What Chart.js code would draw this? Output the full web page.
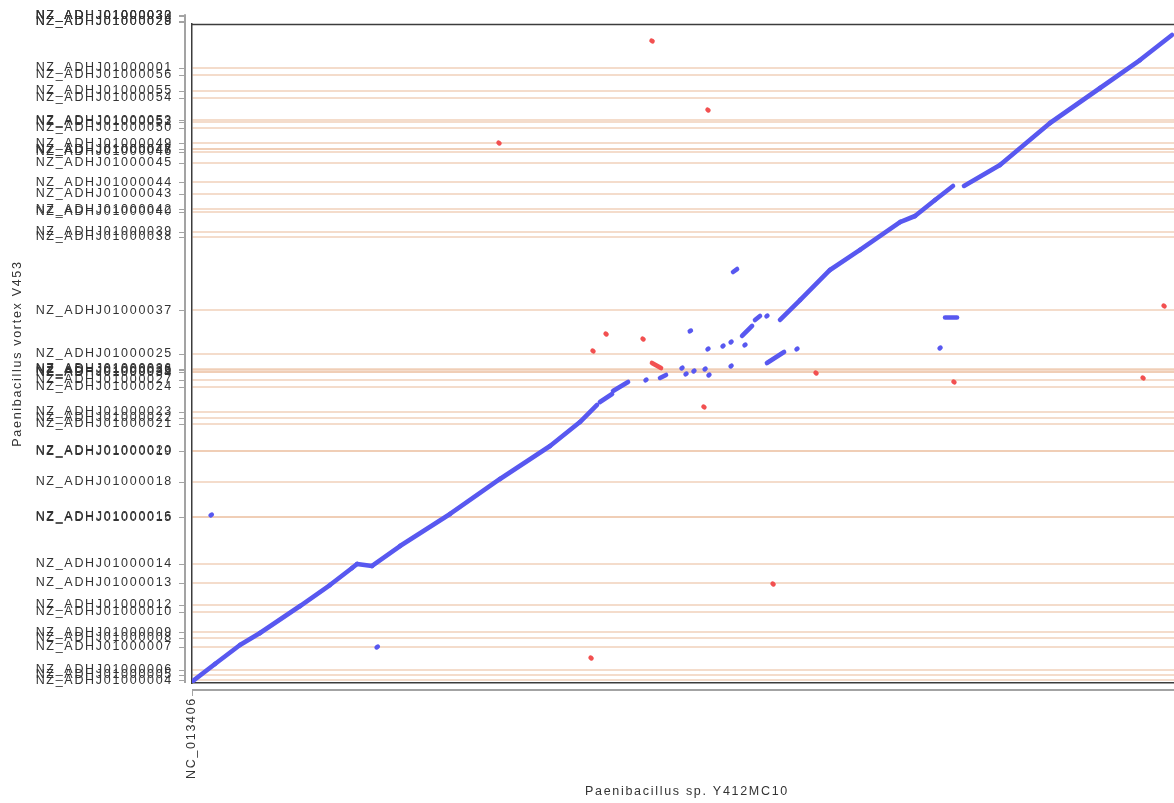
<!DOCTYPE html>
<html>
<head>
<meta charset="utf-8">
<title>Paenibacillus dot plot</title>
<script src="https://cdn.jsdelivr.net/npm/chart.js@4.4.1/dist/chart.umd.min.js"></script>
<style>
  html, body { margin: 0; padding: 0; background: #ffffff; overflow: hidden; }
  #wrap { width: 1184px; height: 803px; }
</style>
</head>
<body>
<div id="wrap"><canvas id="dotplot" width="1184" height="803"></canvas></div>
<script>
// Reference sequence on x, positions in kb
const refName = 'NC_013406';
const refStart = 0;
const refLength = 7120;

// Query draft assembly on y: contig start positions (kb) in plotted order
const qryLength = 6250;
const contigNames = [
  'NZ_ADHJ01000004', 'NZ_ADHJ01000005', 'NZ_ADHJ01000006', 'NZ_ADHJ01000007',
  'NZ_ADHJ01000008', 'NZ_ADHJ01000009', 'NZ_ADHJ01000010', 'NZ_ADHJ01000012',
  'NZ_ADHJ01000013', 'NZ_ADHJ01000014', 'NZ_ADHJ01000015', 'NZ_ADHJ01000016',
  'NZ_ADHJ01000018', 'NZ_ADHJ01000019', 'NZ_ADHJ01000020', 'NZ_ADHJ01000021',
  'NZ_ADHJ01000022', 'NZ_ADHJ01000023', 'NZ_ADHJ01000024', 'NZ_ADHJ01000027',
  'NZ_ADHJ01000034', 'NZ_ADHJ01000035', 'NZ_ADHJ01000036', 'NZ_ADHJ01000026',
  'NZ_ADHJ01000025', 'NZ_ADHJ01000037', 'NZ_ADHJ01000038', 'NZ_ADHJ01000039',
  'NZ_ADHJ01000040', 'NZ_ADHJ01000042', 'NZ_ADHJ01000043', 'NZ_ADHJ01000044',
  'NZ_ADHJ01000045', 'NZ_ADHJ01000046', 'NZ_ADHJ01000047', 'NZ_ADHJ01000048',
  'NZ_ADHJ01000049', 'NZ_ADHJ01000050', 'NZ_ADHJ01000052', 'NZ_ADHJ01000053',
  'NZ_ADHJ01000054', 'NZ_ADHJ01000055', 'NZ_ADHJ01000056', 'NZ_ADHJ01000001',
  'NZ_ADHJ01000028', 'NZ_ADHJ01000029', 'NZ_ADHJ01000030', 'NZ_ADHJ01000032',
  'NZ_ADHJ01000033'
];
const contigStarts = [
  24, 76, 123, 346,
  427, 479, 673, 740,
  953, 1133, 1570, 1579,
  1906, 2196, 2205, 2456,
  2513, 2570, 2807, 2878,
  2945, 2950, 2973, 2978,
  3120, 3533, 4230, 4282,
  4467, 4495, 4642, 4751,
  4932, 5036, 5060, 5064,
  5117, 5264, 5321, 5335,
  5548, 5619, 5771, 5837,
  6269, 6274, 6326, 6330,
  6334
];

// Forward-strand matches: [refFrom, qryFrom, refTo, qryTo] in kb
const forwardHits = [
  [7, 19, 165, 180], [165, 180, 345, 360], [345, 360, 489, 474],
  [489, 474, 777, 730], [777, 730, 992, 929], [992, 929, 1151, 1091],
  [1151, 1091, 1187, 1129], [1187, 1129, 1295, 1110], [1295, 1110, 1496, 1299],
  [1496, 1299, 1856, 1603], [1856, 1603, 2215, 1935], [2215, 1935, 2575, 2248],
  [2575, 2248, 2790, 2475], [2790, 2475, 2913, 2637],
  [2934, 2665, 3021, 2741], [3028, 2769, 3136, 2855],
  [4229, 3443, 4373, 3632], [4373, 3632, 4588, 3917], [4588, 3917, 4804, 4107],
  [4804, 4107, 5092, 4372], [5092, 4372, 5200, 4429], [5200, 4429, 5344, 4581],
  [5344, 4581, 5473, 4714],
  [5552, 4714, 5811, 4913], [5811, 4913, 6171, 5311], [6171, 5311, 6531, 5643],
  [6531, 5643, 6818, 5908], [6818, 5908, 7048, 6146],
  [134, 1590, 142, 1597], [1328, 338, 1336, 345], [3891, 3898, 3920, 3926],
  [3580, 3336, 3588, 3342], [3708, 3165, 3714, 3171], [3816, 3193, 3822, 3199],
  [3874, 3231, 3880, 3237], [3974, 3203, 3980, 3209], [3956, 3291, 4028, 3386],
  [4049, 3443, 4085, 3481], [4132, 3478, 4138, 3484], [4348, 3165, 4354, 3171],
  [5377, 3174, 5383, 3180], [5416, 3466, 5502, 3466], [3521, 2984, 3527, 2990],
  [3550, 2928, 3556, 2934], [3607, 2956, 3613, 2962], [3687, 2975, 3693, 2981],
  [3715, 2918, 3721, 2924], [3874, 3003, 3880, 3009], [3262, 2871, 3268, 2877],
  [3366, 2893, 3409, 2921], [4135, 3035, 4258, 3139]
];

// Reverse-strand matches: [refFrom, qryFrom, refTo, qryTo] in kb
const reverseHits = [
  [3305, 6092, 3312, 6086], [3708, 5437, 3714, 5431], [2205, 5124, 2211, 5118],
  [2975, 3313, 2981, 3307], [3241, 3265, 3247, 3259], [2881, 3152, 2887, 3146],
  [3308, 3035, 3373, 2987], [4485, 2943, 4491, 2937], [5477, 2858, 5483, 2852],
  [6837, 2896, 6843, 2890], [6988, 3579, 6994, 3573], [3679, 2621, 3685, 2615],
  [4176, 942, 4182, 936], [2867, 240, 2873, 234]
];

const FWD_COLOR = 'rgb(88, 88, 240)';
const REV_COLOR = 'rgb(242, 80, 80)';
const GRID_COLOR = 'rgba(236, 196, 168, 0.6)';
const TEXT_COLOR = '#333333';
const FONT = { family: '"Liberation Sans", Arial, sans-serif', size: 12.5 };

function hitDataset(hit, color) {
  return {
    type: 'line',
    data: [{ x: hit[0], y: hit[1] }, { x: hit[2], y: hit[3] }],
    borderColor: color,
    backgroundColor: color,
    borderWidth: 4.6,
    borderCapStyle: 'round',
    pointRadius: 0,
    fill: false,
    tension: 0
  };
}

const datasets = [
  ...forwardHits.map(h => hitDataset(h, FWD_COLOR)),
  ...reverseHits.map(h => hitDataset(h, REV_COLOR))
];

// Frame top edge, spaced label text and the detached grey axis rails
const framePlugin = {
  id: 'framePlugin',
  beforeUpdate(chart) { chart.ctx.letterSpacing = '1.7px'; },
  beforeDraw(chart) { chart.ctx.letterSpacing = '1.7px'; },
  afterDraw(chart) {
    const { ctx, chartArea: a, scales: { x, y } } = chart;
    ctx.save();
    ctx.strokeStyle = '#3c3c3c';
    ctx.lineWidth = 1.5;
    ctx.beginPath();
    ctx.moveTo(a.left, a.top + 0.5);
    ctx.lineTo(a.right, a.top + 0.5);
    ctx.stroke();

    // y rail
    const rx = a.left - 7;
    const pix = contigStarts.map(v => y.getPixelForValue(v));
    const topPx = Math.min(...pix);
    ctx.strokeStyle = '#a3a3a3';
    ctx.lineWidth = 2;
    ctx.beginPath();
    ctx.moveTo(rx, topPx - 1);
    ctx.lineTo(rx, a.bottom);
    ctx.stroke();
    ctx.lineWidth = 1;
    ctx.beginPath();
    pix.forEach(p => {
      const py = Math.round(p) + 0.5;
      ctx.moveTo(rx - 6, py);
      ctx.lineTo(rx, py);
    });
    ctx.stroke();

    // x rail
    const ry = a.bottom + 7;
    ctx.lineWidth = 2;
    ctx.beginPath();
    ctx.moveTo(x.getPixelForValue(refStart), ry);
    ctx.lineTo(a.right, ry);
    ctx.stroke();
    ctx.lineWidth = 1;
    ctx.beginPath();
    const tx = Math.round(x.getPixelForValue(refStart)) + 0.5;
    ctx.moveTo(tx, ry);
    ctx.lineTo(tx, ry + 6);
    ctx.stroke();
    ctx.restore();
  }
};

new Chart(document.getElementById('dotplot'), {
  type: 'scatter',
  data: { datasets },
  plugins: [framePlugin],
  options: {
    responsive: false,
    animation: false,
    devicePixelRatio: 1,
    layout: { padding: { top: 24, right: 2, left: 0, bottom: 0 } },
    plugins: { legend: { display: false }, tooltip: { enabled: false } },
    scales: {
      x: {
        type: 'linear',
        min: 0,
        max: refLength,
        afterBuildTicks: s => { s.ticks = [{ value: refStart }]; },
        afterFit: s => { s.height = 120; s.paddingLeft = 0; s.paddingRight = 0; },
        ticks: {
          autoSkip: false,
          minRotation: 90,
          maxRotation: 90,
          padding: 14,
          color: TEXT_COLOR,
          font: FONT,
          callback: () => refName
        },
        grid: { display: true, color: 'rgba(0,0,0,0)', drawTicks: false },
        border: { display: true, color: '#3c3c3c', width: 1.5 },
        title: {
          display: true,
          text: 'Paenibacillus sp. Y412MC10',
          color: TEXT_COLOR,
          font: FONT,
          padding: { top: 0, bottom: 4 }
        }
      },
      y: {
        type: 'linear',
        min: 0,
        max: qryLength,
        afterBuildTicks: s => { s.ticks = contigStarts.map(v => ({ value: v })); },
        afterFit: s => { s.width = 192; s.paddingTop = 0; s.paddingBottom = 0; },
        ticks: {
          autoSkip: false,
          padding: 19,
          color: TEXT_COLOR,
          font: FONT,
          callback: (value, index) => contigNames[index]
        },
        grid: {
          display: true,
          drawTicks: false,
          lineWidth: 2,
          color: ctx => (ctx.tick && ctx.tick.value > qryLength) ? 'rgba(0,0,0,0)' : GRID_COLOR
        },
        border: { display: true, color: '#3c3c3c', width: 1.5 },
        title: {
          display: true,
          text: 'Paenibacillus vortex V453',
          color: TEXT_COLOR,
          font: FONT,
          padding: { top: 10, bottom: 0 }
        }
      }
    }
  }
});
</script>
</body>
</html>
